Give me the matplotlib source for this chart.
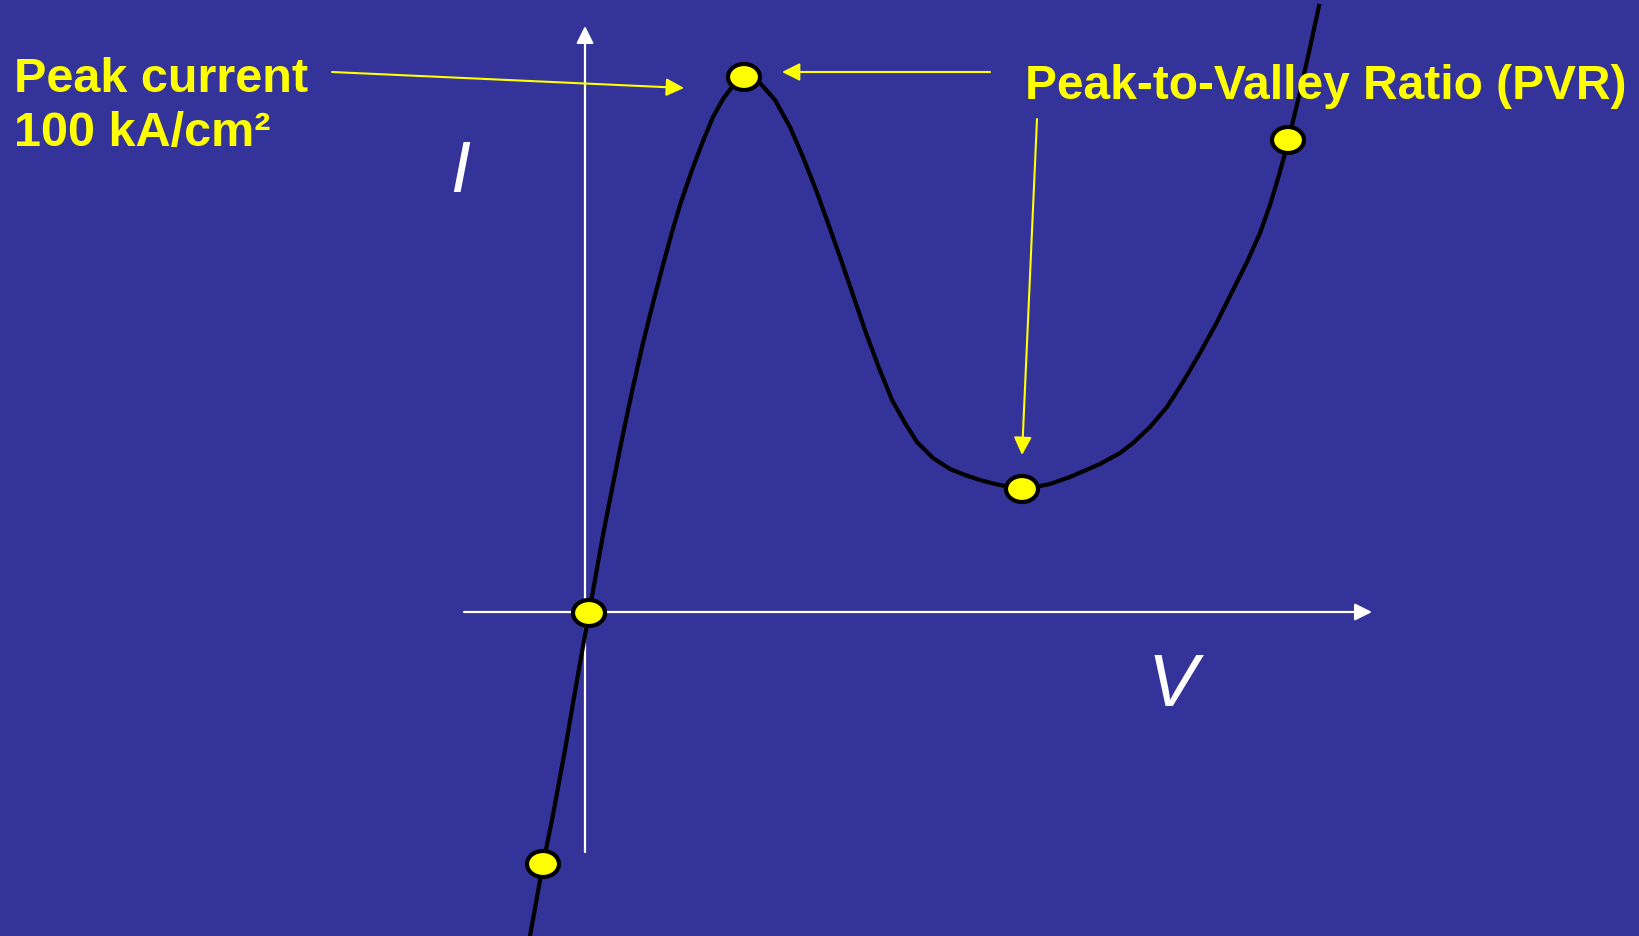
import matplotlib
matplotlib.use("Agg")
import matplotlib.pyplot as plt
from matplotlib.patches import Ellipse

# --- I-V curve of a tunnel diode (arbitrary units, origin at axis crossing) ---
curve_v = [-0.59, -0.46, -0.37, -0.24, -0.12, 0.00, 0.14, 0.24, 0.34, 0.44,
           0.54, 0.64, 0.74, 0.83, 0.92, 1.03, 1.14, 1.24, 1.34, 1.43, 1.49, 1.55,
           1.62, 1.71, 1.86, 2.01, 2.14, 2.27, 2.39, 2.51, 2.64, 2.77, 2.90, 3.03,
           3.16, 3.28, 3.44, 3.61, 3.76, 3.91, 4.06, 4.21, 4.33, 4.46, 4.61, 4.81,
           5.11, 5.31, 5.44, 5.61, 5.78, 5.94, 6.11, 6.28, 6.44, 6.58, 6.71, 6.81,
           6.90, 6.98, 7.05, 7.12, 7.20, 7.30]
curve_i = [-3.23, -2.51, -2.07, -1.37, -0.67, 0.00, 0.78, 1.29, 1.79, 2.26,
           2.70, 3.10, 3.48, 3.81, 4.11, 4.43, 4.72, 4.96, 5.14, 5.26, 5.32, 5.35,
           5.34, 5.30, 5.13, 4.86, 4.56, 4.23, 3.90, 3.56, 3.18, 2.80, 2.45, 2.13,
           1.90, 1.71, 1.55, 1.44, 1.38, 1.33, 1.29, 1.26, 1.25, 1.26, 1.29, 1.36,
           1.49, 1.60, 1.70, 1.86, 2.06, 2.31, 2.60, 2.91, 3.23, 3.51, 3.80, 4.08,
           4.38, 4.67, 4.96, 5.25, 5.61, 6.07]

# highlighted points on the curve
point_v = [-0.46, 0.00, 1.55, 4.33, 6.99]
point_i = [-2.51, 0.00, 5.36, 1.24, 4.73]

bg = "#333399"
yellow = "#FFFF00"

fig = plt.figure(figsize=(16.4, 9.36), dpi=100, facecolor=bg)
ax = fig.add_axes([0, 0, 1, 1])
ax.set_facecolor(bg)
ax.set_xlim(-5.89, 10.51)
ax.set_ylim(-3.23, 6.13)
ax.axis("off")

# axes with arrow heads
ax.annotate("", xy=(-0.04, 5.87), xytext=(-0.04, -2.39),
            arrowprops=dict(arrowstyle="-|>", color="white", lw=1.6,
                            mutation_scale=26, shrinkA=0, shrinkB=0))
ax.annotate("", xy=(7.83, 0.01), xytext=(-1.25, 0.01),
            arrowprops=dict(arrowstyle="-|>", color="white", lw=1.6,
                            mutation_scale=26, shrinkA=0, shrinkB=0))

ax.text(-1.29, 4.40, "I", color="white", fontsize=52, style="italic",
        family="Liberation Sans", ha="center", va="center")
ax.text(5.84, -0.73, "V", color="white", fontsize=54, style="italic",
        family="Liberation Sans", ha="center", va="center")

# the curve
ax.plot(curve_v, curve_i, color="black", lw=3, solid_joinstyle="round", zorder=3)

for v, i in zip(point_v, point_i):
    ax.add_patch(Ellipse((v, i), 0.32, 0.26, facecolor=yellow, edgecolor="black",
                         lw=3, zorder=4))

# labels
ax.text(-5.75, 5.21, "Peak current", color=yellow, fontsize=35, weight="bold",
        family="Liberation Sans", ha="left", va="baseline")
ax.text(-5.75, 4.67, "100 kA/cm²", color=yellow, fontsize=35, weight="bold",
        family="Liberation Sans", ha="left", va="baseline")
ax.text(4.36, 5.14, "Peak-to-Valley Ratio (PVR)", color=yellow, fontsize=34.5,
        weight="bold", family="Liberation Sans", ha="left", va="baseline")

# annotation arrows
arrow_kw = dict(arrowstyle="-|>", color=yellow, lw=1.5, mutation_scale=27,
                shrinkA=0, shrinkB=0)
ax.annotate("", xy=(0.95, 5.25), xytext=(-2.57, 5.41), arrowprops=arrow_kw)
ax.annotate("", xy=(1.93, 5.41), xytext=(4.01, 5.41), arrowprops=arrow_kw)
ax.annotate("", xy=(4.33, 1.58), xytext=(4.48, 4.94), arrowprops=arrow_kw)

fig.savefig("out.png", dpi=100, facecolor=bg)
